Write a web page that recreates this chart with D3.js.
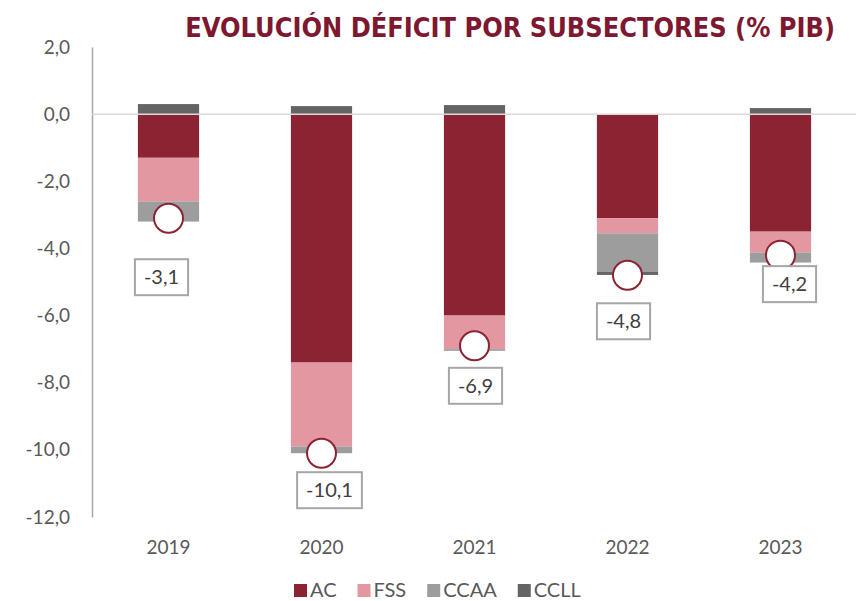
<!DOCTYPE html>
<html>
<head>
<meta charset="utf-8">
<style>
  body { margin: 0; background: #fff; }
  svg text { font-family: Lato, "Open Sans", sans-serif; }
</style>
<script src="https://d3js.org/d3.v7.min.js"></script>
</head>
<body>
<div id="chart"></div>
<script>
const years = ["2019", "2020", "2021", "2022", "2023"];
const sectors = ["AC", "FSS", "CCAA", "CCLL"];
const acValues = [-1.3, -7.4, -6.0, -3.1, -3.5];
const fssValues = [-1.3, -2.5, -1.0, -0.45, -0.62];
const ccaaValues = [-0.6, -0.2, -0.05, -1.14, -0.3];
const cllValues = [0.3, 0.24, 0.27, -0.1, 0.18];
const totals = [-3.1, -10.1, -6.9, -4.8, -4.2];
const yTicks = [2, 0, -2, -4, -6, -8, -10, -12];

// hand-placed label boxes (px from the marker), like the original
const labelDx = [-7, 8, 1, -4, 9];
const labelDy = [41, 19, 22, 28, 11];

const colors = {
  "AC": "#8b2332",
  "FSS": "#e397a0",
  "CCAA": "#9d9d9e",
  "CCLL": "#646464"
};

const width = 856, height = 601;

const svg = d3.select("#chart").append("svg")
  .attr("width", width)
  .attr("height", height);

const rows = years.map((yr, i) => ({
  year: yr, AC: acValues[i], FSS: fssValues[i], CCAA: ccaaValues[i], CCLL: cllValues[i]
}));

const x = d3.scaleBand()
  .domain(years)
  .range([92, 857])
  .paddingInner(0.6)
  .paddingOuter(0.3);

const y = d3.scaleLinear()
  .domain([-12, 2])
  .range([517, 47]);

const fmt = v => d3.format(".1f")(v).replace(".", ",").replace("−", "-");

// title, sized so it spans about 650px
const title = svg.append("text")
  .attr("x", 835)
  .attr("y", 37)
  .attr("text-anchor", "end")
  .style("font-family", "'Liberation Sans Narrow', 'DejaVu Sans Condensed', sans-serif")
  .style("font-weight", "bold")
  .style("font-size", "32px")
  .style("fill", "#7d1830")
  .text("EVOLUCIÓN DÉFICIT POR SUBSECTORES (% PIB)");
const tw = title.node().getComputedTextLength();
title.style("font-size", Math.min(34, 32 * 650 / tw) + "px");

// y axis
const yAxis = svg.append("g")
  .attr("transform", "translate(92,0)")
  .call(d3.axisLeft(y).tickValues(yTicks).tickFormat(fmt).tickSize(0).tickPadding(22));
yAxis.select(".domain").attr("stroke", "#a6a6a6").attr("stroke-width", 1.5);
yAxis.selectAll("text")
  .style("font-size", "19px")
  .style("fill", "#595959");

// stacked bars
const stack = d3.stack().keys(sectors).offset(d3.stackOffsetDiverging);
const series = stack(rows);

svg.append("g").selectAll("g")
  .data(series)
  .join("g")
  .attr("fill", d => colors[d.key])
  .selectAll("rect")
  .data(d => d)
  .join("rect")
  .attr("x", d => x(d.data.year))
  .attr("width", x.bandwidth())
  .attr("y", d => y(d[1]))
  .attr("height", d => y(d[0]) - y(d[1]));

// zero line
svg.append("line")
  .attr("x1", 92).attr("x2", 856)
  .attr("y1", y(0)).attr("y2", y(0))
  .attr("stroke", "#d9d9d9")
  .attr("stroke-width", 1.5);

// x labels
svg.append("g").selectAll("text")
  .data(years)
  .join("text")
  .attr("x", d => x(d) + x.bandwidth() / 2)
  .attr("y", 554)
  .attr("text-anchor", "middle")
  .style("font-size", "19px")
  .style("fill", "#595959")
  .text(d => d);

// total markers
const cx = i => x(years[i]) + x.bandwidth() / 2;

svg.append("g").selectAll("circle")
  .data(totals)
  .join("circle")
  .attr("cx", (d, i) => cx(i))
  .attr("cy", d => y(d))
  .attr("r", 14.5)
  .attr("fill", "#fff")
  .attr("stroke", "#8b2332")
  .attr("stroke-width", 2);

// total labels
const labels = svg.append("g").selectAll("g")
  .data(totals)
  .join("g")
  .attr("transform", (d, i) => `translate(${cx(i) + labelDx[i]},${y(d) + labelDy[i]})`);

labels.append("text")
  .attr("x", 0)
  .attr("y", 25)
  .attr("text-anchor", "middle")
  .style("font-size", "20px")
  .style("fill", "#404040")
  .text(d => fmt(d));

labels.each(function() {
  const g = d3.select(this);
  const bb = g.select("text").node().getBBox();
  const w = bb.width + 18;
  g.insert("rect", "text")
    .attr("x", -w / 2)
    .attr("y", 0)
    .attr("width", w)
    .attr("height", 36)
    .attr("fill", "#fff")
    .attr("stroke", "#a6a6a6")
    .attr("stroke-width", 2);
});

// legend
const legend = svg.append("g").attr("transform", "translate(294,584)");
let lx = 0;
sectors.forEach(k => {
  const item = legend.append("g").attr("transform", `translate(${lx},0)`);
  item.append("rect")
    .attr("width", 13).attr("height", 13)
    .attr("fill", colors[k]);
  const t = item.append("text")
    .attr("x", 16)
    .attr("y", 13)
    .style("font-size", "20px")
    .style("fill", "#595959")
    .text(k);
  lx += 16 + t.node().getComputedTextLength() + 21;
});
</script>
</body>
</html>
